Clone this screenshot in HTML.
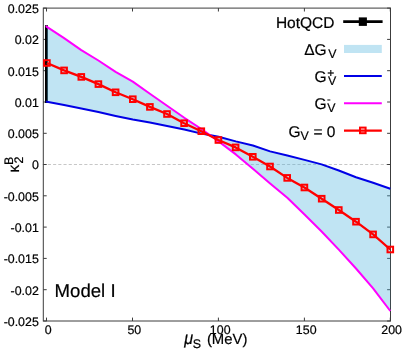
<!DOCTYPE html>
<html><head><meta charset="utf-8"><title>plot</title>
<style>html,body{margin:0;padding:0;background:#fff;}svg{display:block;will-change:transform;}text{font-family:"Liberation Sans",sans-serif;fill:#000;stroke:#000;stroke-width:0.2px;text-rendering:geometricPrecision;}</style>
</head><body>
<svg width="403" height="353" viewBox="0 0 403 353">
<rect x="0" y="0" width="403" height="353" fill="#fff"/>
<line x1="42.7" y1="164.5" x2="390.5" y2="164.5" stroke="#b4b4b4" stroke-opacity="0.75" stroke-width="1" stroke-dasharray="3.1,2.1"/>
<g stroke="#3c3c3c" stroke-width="1" fill="none">
<rect x="43.3" y="8.1" width="347.2" height="312.9"/>
<line x1="46.5" y1="321.0" x2="46.5" y2="317.6"/>
<line x1="46.5" y1="8.1" x2="46.5" y2="11.5"/>
<line x1="132.5" y1="321.0" x2="132.5" y2="317.6"/>
<line x1="132.5" y1="8.1" x2="132.5" y2="11.5"/>
<line x1="218.4" y1="321.0" x2="218.4" y2="317.6"/>
<line x1="218.4" y1="8.1" x2="218.4" y2="11.5"/>
<line x1="304.4" y1="321.0" x2="304.4" y2="317.6"/>
<line x1="304.4" y1="8.1" x2="304.4" y2="11.5"/>
<line x1="390.3" y1="321.0" x2="390.3" y2="317.6"/>
<line x1="390.3" y1="8.1" x2="390.3" y2="11.5"/>
<line x1="43.3" y1="8.1" x2="46.7" y2="8.1"/>
<line x1="390.5" y1="8.1" x2="387.1" y2="8.1"/>
<line x1="43.3" y1="39.4" x2="46.7" y2="39.4"/>
<line x1="390.5" y1="39.4" x2="387.1" y2="39.4"/>
<line x1="43.3" y1="70.7" x2="46.7" y2="70.7"/>
<line x1="390.5" y1="70.7" x2="387.1" y2="70.7"/>
<line x1="43.3" y1="102.0" x2="46.7" y2="102.0"/>
<line x1="390.5" y1="102.0" x2="387.1" y2="102.0"/>
<line x1="43.3" y1="133.3" x2="46.7" y2="133.3"/>
<line x1="390.5" y1="133.3" x2="387.1" y2="133.3"/>
<line x1="43.3" y1="164.5" x2="46.7" y2="164.5"/>
<line x1="390.5" y1="164.5" x2="387.1" y2="164.5"/>
<line x1="43.3" y1="195.8" x2="46.7" y2="195.8"/>
<line x1="390.5" y1="195.8" x2="387.1" y2="195.8"/>
<line x1="43.3" y1="227.1" x2="46.7" y2="227.1"/>
<line x1="390.5" y1="227.1" x2="387.1" y2="227.1"/>
<line x1="43.3" y1="258.4" x2="46.7" y2="258.4"/>
<line x1="390.5" y1="258.4" x2="387.1" y2="258.4"/>
<line x1="43.3" y1="289.7" x2="46.7" y2="289.7"/>
<line x1="390.5" y1="289.7" x2="387.1" y2="289.7"/>
<line x1="43.3" y1="321.0" x2="46.7" y2="321.0"/>
<line x1="390.5" y1="321.0" x2="387.1" y2="321.0"/>
</g>
<line x1="46.45" y1="25.2" x2="46.45" y2="103" stroke="#000" stroke-width="2.9"/>
<polygon points="46.9,26.8 64.1,38.2 81.3,50.1 98.4,60.5 115.6,71.8 132.8,81.6 149.9,93.7 167.1,105.8 184.3,117.8 201.4,129.0 218.6,141.4 235.8,154.4 252.9,168.8 270.1,183.4 287.3,197.8 304.5,214.5 321.6,231.5 338.8,249.6 356.0,268.5 373.1,288.3 390.3,311.0 390.3,188.8 373.1,182.8 356.0,177.2 338.8,170.5 321.6,164.4 304.5,159.9 287.3,155.5 270.1,151.4 252.9,145.5 235.8,141.4 218.6,136.8 201.4,133.6 184.3,129.5 167.1,126.0 149.9,122.6 132.8,119.5 115.6,115.9 98.4,112.1 81.3,108.5 64.1,105.1 46.9,101.8" fill="rgb(75,178,221)" fill-opacity="0.35"/>
<polyline points="45.8,101.6 46.9,101.8 64.1,105.1 81.3,108.5 98.4,112.1 115.6,115.9 132.8,119.5 149.9,122.6 167.1,126.0 184.3,129.5 201.4,133.6 218.6,136.8 235.8,141.4 252.9,145.5 270.1,151.4 287.3,155.5 304.5,159.9 321.6,164.4 338.8,170.5 356.0,177.2 373.1,182.8 390.3,188.8" fill="none" stroke="#0000e6" stroke-width="2" stroke-linejoin="round"/>
<polyline points="45.8,26.1 46.9,26.8 64.1,38.2 81.3,50.1 98.4,60.5 115.6,71.8 132.8,81.6 149.9,93.7 167.1,105.8 184.3,117.8 201.4,129.0 218.6,141.4 235.8,154.4 252.9,168.8 270.1,183.4 287.3,197.8 304.5,214.5 321.6,231.5 338.8,249.6 356.0,268.5 373.1,288.3 390.3,311.0" fill="none" stroke="#ff00ff" stroke-width="2" stroke-linejoin="round"/>
<polyline points="46.9,63.0 64.1,70.4 81.3,76.9 98.4,84.1 115.6,92.3 132.8,99.2 149.9,106.9 167.0,114.0 184.1,123.2 201.3,131.2 218.4,140.0 235.6,147.4 252.8,156.8 270.0,166.5 287.2,177.9 304.4,187.5 321.7,198.7 338.8,210.0 356.0,221.7 373.1,234.4 390.3,249.5" fill="none" stroke="#ff0000" stroke-width="2.3" stroke-linejoin="round"/>
<g fill="none" stroke="#ff0000" stroke-width="2">
<rect x="44.1" y="60.2" width="5.6" height="5.6"/>
<rect x="61.3" y="67.6" width="5.6" height="5.6"/>
<rect x="78.5" y="74.1" width="5.6" height="5.6"/>
<rect x="95.6" y="81.3" width="5.6" height="5.6"/>
<rect x="112.8" y="89.5" width="5.6" height="5.6"/>
<rect x="130.0" y="96.4" width="5.6" height="5.6"/>
<rect x="147.1" y="104.1" width="5.6" height="5.6"/>
<rect x="164.2" y="111.2" width="5.6" height="5.6"/>
<rect x="181.3" y="120.4" width="5.6" height="5.6"/>
<rect x="198.5" y="128.4" width="5.6" height="5.6"/>
<rect x="215.6" y="137.2" width="5.6" height="5.6"/>
<rect x="232.8" y="144.6" width="5.6" height="5.6"/>
<rect x="250.0" y="154.0" width="5.6" height="5.6"/>
<rect x="267.2" y="163.7" width="5.6" height="5.6"/>
<rect x="284.4" y="175.1" width="5.6" height="5.6"/>
<rect x="301.6" y="184.7" width="5.6" height="5.6"/>
<rect x="318.9" y="195.9" width="5.6" height="5.6"/>
<rect x="336.0" y="207.2" width="5.6" height="5.6"/>
<rect x="353.2" y="218.9" width="5.6" height="5.6"/>
<rect x="370.3" y="231.6" width="5.6" height="5.6"/>
<rect x="387.5" y="246.7" width="5.6" height="5.6"/>
</g>
<text x="48.3" y="333.6" font-size="12.4" text-anchor="middle">0</text>
<text x="134.3" y="333.6" font-size="12.4" text-anchor="middle">50</text>
<text x="220.2" y="333.6" font-size="12.4" text-anchor="middle">100</text>
<text x="306.2" y="333.6" font-size="12.4" text-anchor="middle">150</text>
<text x="391.6" y="333.6" font-size="12.4" text-anchor="middle">200</text>
<text x="38.8" y="12.9" font-size="12.4" text-anchor="end">0.025</text>
<text x="38.8" y="44.2" font-size="12.4" text-anchor="end">0.02</text>
<text x="38.8" y="75.5" font-size="12.4" text-anchor="end">0.015</text>
<text x="38.8" y="106.8" font-size="12.4" text-anchor="end">0.01</text>
<text x="38.8" y="138.1" font-size="12.4" text-anchor="end">0.005</text>
<text x="38.8" y="169.3" font-size="12.4" text-anchor="end">0</text>
<text x="38.8" y="200.6" font-size="12.4" text-anchor="end">-0.005</text>
<text x="38.8" y="231.9" font-size="12.4" text-anchor="end">-0.01</text>
<text x="38.8" y="263.2" font-size="12.4" text-anchor="end">-0.015</text>
<text x="38.8" y="294.5" font-size="12.4" text-anchor="end">-0.02</text>
<text x="38.8" y="325.8" font-size="12.4" text-anchor="end">-0.025</text>
<text transform="translate(184.2,344.0) scale(1.04,1.157)" font-size="15.5" font-style="italic">μ</text>
<text x="192.8" y="348.0" font-size="12.4">S</text>
<text x="206.9" y="344.1" font-size="14.9">(MeV)</text>
<text transform="translate(19.3,172.4) rotate(-90)" font-size="15.5">κ</text>
<text transform="translate(12.7,164.9) rotate(-90)" font-size="12.4">B</text>
<text transform="translate(22.8,163.6) rotate(-90)" font-size="12.4">2</text>
<text x="54.6" y="296.8" font-size="18.6">Model I</text>
<text x="334.5" y="27.6" font-size="15.5" text-anchor="end">HotQCD</text>
<line x1="343.2" y1="21.6" x2="382.6" y2="21.6" stroke="#000" stroke-width="2.9"/>
<rect x="358.8" y="17.4" width="8.1" height="8.5" fill="#000"/>
<text x="304.2" y="54.9" font-size="15.5">ΔG</text>
<text x="328.2" y="58.2" font-size="12.4">V</text>
<rect x="344" y="44.9" width="37.8" height="8.1" fill="#c0e4f3"/>
<text x="314.5" y="82.1" font-size="15.5">G</text>
<text x="328.0" y="85.3" font-size="12.4">V</text>
<text x="327.2" y="77.4" font-size="12">+</text>
<line x1="344" y1="76" x2="381.8" y2="76" stroke="#0000e6" stroke-width="2"/>
<text x="314.5" y="108.9" font-size="15.5">G</text>
<text x="327.3" y="112.2" font-size="12.4">V</text>
<text x="327.0" y="102.8" font-size="11">-</text>
<line x1="344" y1="103.35" x2="381.8" y2="103.35" stroke="#ff00ff" stroke-width="2"/>
<text x="288.4" y="136.5" font-size="15.5">G</text>
<text x="300.4" y="140.4" font-size="12.4">V</text>
<text x="335.5" y="136.5" font-size="15.5" text-anchor="end">= 0</text>
<line x1="344" y1="130.7" x2="381.8" y2="130.7" stroke="#ff0000" stroke-width="2.3"/>
<rect x="360.0" y="127.6" width="5.6" height="5.6" fill="none" stroke="#ff0000" stroke-width="2"/>
</svg></body></html>
